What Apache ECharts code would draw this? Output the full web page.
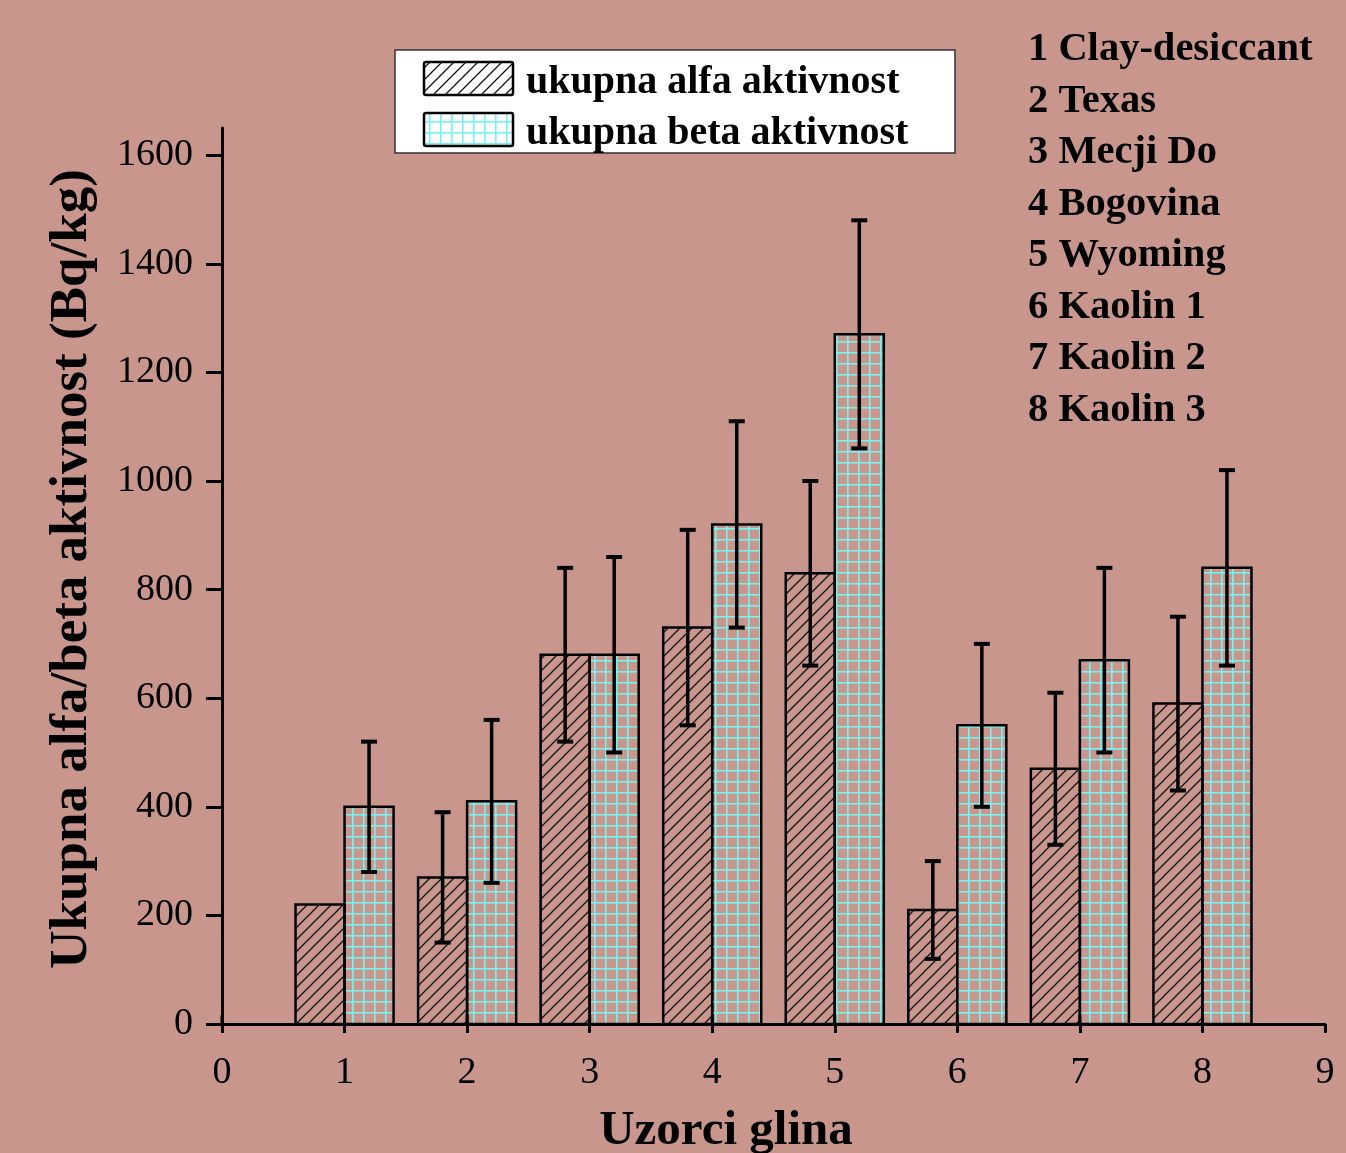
<!DOCTYPE html>
<html><head><meta charset="utf-8">
<script src="https://cdn.jsdelivr.net/npm/echarts@6/dist/echarts.min.js"></script>
<style>html,body{margin:0;padding:0;background:#c9968d}#c{width:1346px;height:1153px}</style>
</head><body><div id="c"></div>
<script>
// ---- data ----
const samples = [1, 2, 3, 4, 5, 6, 7, 8];
const sampleNames = ['1 Clay-desiccant', '2 Texas', '3 Mecji Do', '4 Bogovina', '5 Wyoming', '6 Kaolin 1', '7 Kaolin 2', '8 Kaolin 3'];
const alphaValues = [220, 270, 680, 730, 830, 210, 470, 590];
const alphaErrors = [null, 120, 160, 180, 170, 90, 140, 160];
const betaValues = [400, 410, 680, 920, 1270, 550, 670, 840];
const betaErrors = [120, 150, 180, 190, 210, 150, 170, 180];
const yTickValues = [0, 200, 400, 600, 800, 1000, 1200, 1400, 1600];
const xTickValues = [0, 1, 2, 3, 4, 5, 6, 7, 8, 9];
const xInnerTickValues = [0, 1, 2, 3, 4, 5, 6, 7, 8];
const seriesNames = ['ukupna alfa aktivnost', 'ukupna beta aktivnost'];
const xLabel = 'Uzorci glina';
const yLabel = 'Ukupna alfa/beta aktivnost (Bq/kg)';

// ---- patterns ----
function hatchPattern() {
  const s = 12, c = document.createElement('canvas');
  c.width = s; c.height = s;
  const g = c.getContext('2d');
  g.strokeStyle = '#111'; g.lineWidth = 1.3;
  g.beginPath();
  g.moveTo(-1, s + 1); g.lineTo(s + 1, -1);
  g.moveTo(-1, 1); g.lineTo(1, -1);
  g.moveTo(s - 1, s + 1); g.lineTo(s + 1, s - 1);
  g.stroke();
  return { image: c, repeat: 'repeat' };
}
function gridPattern() {
  const s = 11, c = document.createElement('canvas');
  c.width = s; c.height = s;
  const g = c.getContext('2d');
  g.fillStyle = '#78f2ee';
  g.fillRect(0, 0, s, 1.6);
  g.fillRect(0, 0, 1.6, s);
  return { image: c, repeat: 'repeat' };
}
const alphaFill = hatchPattern();
const betaFill = gridPattern();

const FONT = "'Liberation Serif', 'Times New Roman', serif";
const BAR_W = 0.4;

function barRender(offsetSign, fill) {
  return function (params, api) {
    const x = api.value(0), y = api.value(1);
    const x0 = offsetSign < 0 ? x - BAR_W : x;
    const x1 = offsetSign < 0 ? x : x + BAR_W;
    const p0 = api.coord([x0, 0]);
    const p1 = api.coord([x1, y]);
    return {
      type: 'rect',
      shape: { x: p0[0], y: p1[1], width: p1[0] - p0[0], height: p0[1] - p1[1] },
      style: { fill: fill, stroke: '#000', lineWidth: 2.5 }
    };
  };
}
function errRender(offsetSign) {
  return function (params, api) {
    const e = api.value(2);
    if (e == null || isNaN(e)) return null;
    const x = api.value(0) + offsetSign * BAR_W / 2, y = api.value(1);
    const top = api.coord([x, y + e]);
    const bot = api.coord([x, y - e]);
    const hw = 8;
    const st = { stroke: '#000', lineWidth: 3.5 };
    return {
      type: 'group',
      children: [
        { type: 'line', shape: { x1: top[0], y1: top[1], x2: bot[0], y2: bot[1] }, style: st },
        { type: 'line', shape: { x1: top[0] - hw, y1: top[1], x2: top[0] + hw, y2: top[1] }, style: { stroke: '#000', lineWidth: 4 } },
        { type: 'line', shape: { x1: bot[0] - hw, y1: bot[1], x2: bot[0] + hw, y2: bot[1] }, style: { stroke: '#000', lineWidth: 4 } }
      ]
    };
  };
}

const chart = echarts.init(document.getElementById('c'), null, { renderer: 'canvas' });

const legendGraphics = [
  { type: 'rect', shape: { x: 395, y: 50, width: 560, height: 103 }, style: { fill: '#fff', stroke: '#333', lineWidth: 1.5 }, z: 100 },
  { type: 'rect', shape: { x: 424, y: 62, width: 89, height: 33, r: 2 }, style: { fill: alphaFill, stroke: '#000', lineWidth: 2.5 }, z: 101 },
  { type: 'rect', shape: { x: 424, y: 113, width: 89, height: 33, r: 2 }, style: { fill: betaFill, stroke: '#000', lineWidth: 2.5 }, z: 101 },
  { type: 'text', x: 526, y: 83, style: { text: seriesNames[0], font: "bold 40px " + FONT, fill: '#000', textVerticalAlign: 'middle' }, z: 101 },
  { type: 'text', x: 526, y: 134, style: { text: seriesNames[1], font: "bold 40px " + FONT, fill: '#000', textVerticalAlign: 'middle' }, z: 101 }
];
const nameGraphics = sampleNames.map((n, i) => ({
  type: 'text', x: 1028, y: 50 + i * 51.5,
  style: { text: n, font: "bold 40.5px " + FONT, fill: '#000', textVerticalAlign: 'middle' }, z: 101
}));
const titleGraphics = [
  { type: 'text', x: 726, y: 1131, style: { text: xLabel, font: "bold 49px " + FONT, fill: '#000', textAlign: 'center', textVerticalAlign: 'middle' }, z: 101 },
  { type: 'text', x: 72, y: 569, rotation: Math.PI / 2, style: { text: yLabel, font: "bold 53px " + FONT, fill: '#000', textAlign: 'center', textVerticalAlign: 'middle' }, z: 101 }
];

chart.setOption({
  backgroundColor: '#c9968d',
  animation: false,
  grid: { left: 222, right: 21, top: 128, bottom: 129, containLabel: false },
  xAxis: {
    type: 'value', min: 0, max: 9, interval: 1,
    axisLine: { show: true, lineStyle: { color: '#000', width: 3 } },
    axisTick: { show: true, inside: false, length: 9, lineStyle: { color: '#000', width: 3 }, customValues: xTickValues },
    axisLabel: { fontFamily: FONT, fontSize: 38, color: '#000', margin: 30, customValues: xTickValues },
    splitLine: { show: false }
  },
  yAxis: {
    type: 'value', min: 0, max: 1650,
    axisLine: { show: true, onZero: false, lineStyle: { color: '#000', width: 3 } },
    axisTick: { show: true, inside: false, length: 16, lineStyle: { color: '#000', width: 3 }, customValues: yTickValues },
    axisLabel: { fontFamily: FONT, fontSize: 38, color: '#000', margin: 29, customValues: yTickValues, formatter: v => String(v) },
    splitLine: { show: false }
  },
  graphic: legendGraphics.concat(nameGraphics, titleGraphics),
  series: [
    {
      name: seriesNames[0], type: 'custom', renderItem: barRender(-1, alphaFill),
      data: samples.map((s, i) => [s, alphaValues[i]]), z: 2
    },
    {
      name: seriesNames[1], type: 'custom', renderItem: barRender(1, betaFill),
      data: samples.map((s, i) => [s, betaValues[i]]), z: 2
    },
    {
      type: 'custom', renderItem: errRender(-1), z: 5,
      data: samples.map((s, i) => [s, alphaValues[i], alphaErrors[i] == null ? NaN : alphaErrors[i]])
    },
    {
      type: 'custom', renderItem: errRender(1), z: 5,
      data: samples.map((s, i) => [s, betaValues[i], betaErrors[i]])
    },
    {
      // upward half of the x-axis ticks
      type: 'custom', z: 6, silent: true,
      renderItem: function (params, api) {
        const p = api.coord([api.value(0), 0]);
        return { type: 'line', shape: { x1: p[0], y1: p[1], x2: p[0], y2: p[1] - 9 }, style: { stroke: '#000', lineWidth: 3 } };
      },
      data: xInnerTickValues.map(v => [v, 0])
    }
  ]
});
</script></body></html>
